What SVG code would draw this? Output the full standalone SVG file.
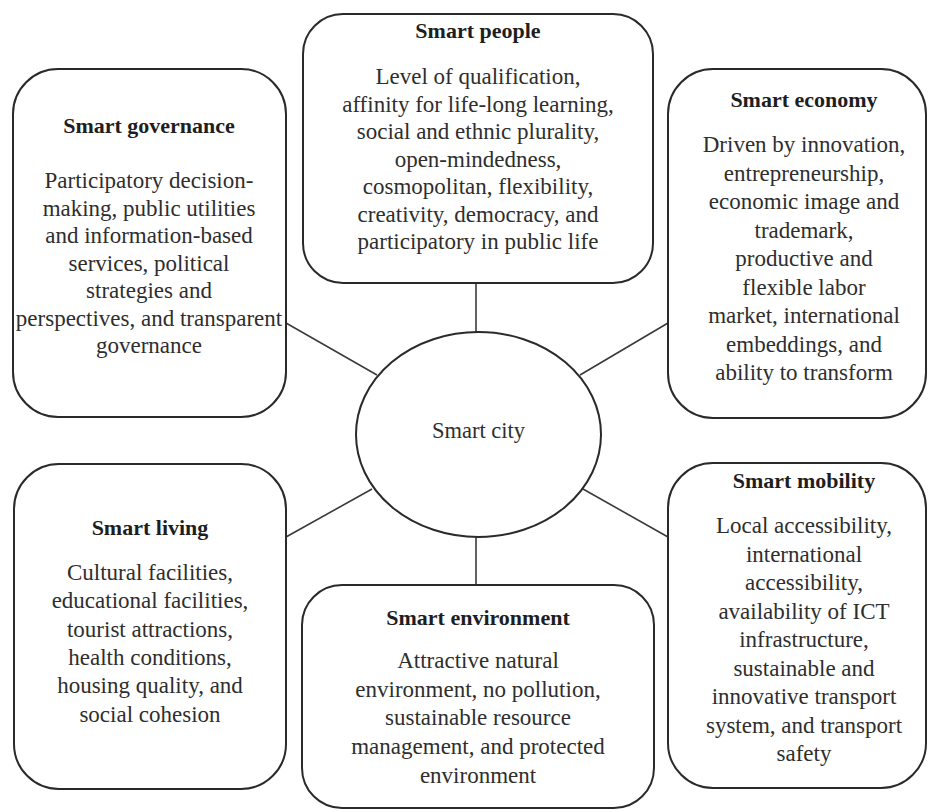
<svg xmlns="http://www.w3.org/2000/svg" width="930" height="812" viewBox="0 0 930 812">
<style>
.box{fill:#fff;stroke:#2a2a2a;stroke-width:2}
.ell{fill:#fff;stroke:#2a2a2a;stroke-width:2}
.con{stroke:#3a3a3a;stroke-width:1.6;fill:none}
.t{font-family:"Liberation Serif","Times New Roman",serif;font-size:22px;font-weight:bold;fill:#1e1e1e;text-anchor:middle}
.b{font-family:"Liberation Serif","Times New Roman",serif;font-size:23px;fill:#2e2e2e;text-anchor:middle}
.c{font-family:"Liberation Serif","Times New Roman",serif;font-size:22.5px;fill:#2e2e2e;text-anchor:middle}
</style>
<rect width="930" height="812" fill="#fff"/>
<g id="connectors">
<line class="con" x1="476" y1="283" x2="476" y2="332"/>
<line class="con" x1="476" y1="537" x2="476" y2="585"/>
<line class="con" x1="286" y1="323" x2="377" y2="375"/>
<line class="con" x1="668" y1="323" x2="580" y2="375"/>
<line class="con" x1="286" y1="537" x2="372" y2="489"/>
<line class="con" x1="668" y1="537" x2="583" y2="489"/>
</g>
<g id="smart-city">
<ellipse class="ell" cx="478.5" cy="434.5" rx="122.5" ry="102.5"/>
<text class="c" x="478.5" y="438">Smart city</text>
</g>
<g id="smart-governance">
<rect class="box" x="13" y="69" width="273" height="348" rx="45" ry="45"/>
<text class="t" x="149" y="133">Smart governance</text>
<text class="b" x="149" y="188">Participatory decision-</text>
<text class="b" x="149" y="215.5">making, public utilities</text>
<text class="b" x="149" y="243">and information-based</text>
<text class="b" x="149" y="270.5">services, political</text>
<text class="b" x="149" y="298">strategies and</text>
<text class="b" x="149" y="325.5">perspectives, and transparent</text>
<text class="b" x="149" y="353">governance</text>
</g>
<g id="smart-people">
<rect class="box" x="303" y="14" width="350" height="269" rx="40" ry="40"/>
<text class="t" x="478" y="38">Smart people</text>
<text class="b" x="478" y="84">Level of qualification,</text>
<text class="b" x="478" y="111.5">affinity for life-long learning,</text>
<text class="b" x="478" y="139">social and ethnic plurality,</text>
<text class="b" x="478" y="166.5">open-mindedness,</text>
<text class="b" x="478" y="194">cosmopolitan, flexibility,</text>
<text class="b" x="478" y="221.5">creativity, democracy, and</text>
<text class="b" x="478" y="249">participatory in public life</text>
</g>
<g id="smart-economy">
<rect class="box" x="668" y="69" width="258" height="349" rx="45" ry="45"/>
<text class="t" x="804" y="107">Smart economy</text>
<text class="b" x="804" y="152">Driven by innovation,</text>
<text class="b" x="804" y="180.5">entrepreneurship,</text>
<text class="b" x="804" y="209">economic image and</text>
<text class="b" x="804" y="237.5">trademark,</text>
<text class="b" x="804" y="266">productive and</text>
<text class="b" x="804" y="294.5">flexible labor</text>
<text class="b" x="804" y="323">market, international</text>
<text class="b" x="804" y="351.5">embeddings, and</text>
<text class="b" x="804" y="380">ability to transform</text>
</g>
<g id="smart-living">
<rect class="box" x="14" y="464" width="272" height="325" rx="45" ry="45"/>
<text class="t" x="150" y="535">Smart living</text>
<text class="b" x="150" y="580">Cultural facilities,</text>
<text class="b" x="150" y="608.3">educational facilities,</text>
<text class="b" x="150" y="636.6">tourist attractions,</text>
<text class="b" x="150" y="664.9">health conditions,</text>
<text class="b" x="150" y="693.2">housing quality, and</text>
<text class="b" x="150" y="721.5">social cohesion</text>
</g>
<g id="smart-environment">
<rect class="box" x="302" y="585" width="352" height="223" rx="40" ry="40"/>
<text class="t" x="478" y="625">Smart environment</text>
<text class="b" x="478" y="668">Attractive natural</text>
<text class="b" x="478" y="696.7">environment, no pollution,</text>
<text class="b" x="478" y="725.4">sustainable resource</text>
<text class="b" x="478" y="754.1">management, and protected</text>
<text class="b" x="478" y="782.8">environment</text>
</g>
<g id="smart-mobility">
<rect class="box" x="668" y="463" width="258" height="325" rx="45" ry="45"/>
<text class="t" x="804" y="488">Smart mobility</text>
<text class="b" x="804" y="533">Local accessibility,</text>
<text class="b" x="804" y="561.5">international</text>
<text class="b" x="804" y="590">accessibility,</text>
<text class="b" x="804" y="618.5">availability of ICT</text>
<text class="b" x="804" y="647">infrastructure,</text>
<text class="b" x="804" y="675.5">sustainable and</text>
<text class="b" x="804" y="704">innovative transport</text>
<text class="b" x="804" y="732.5">system, and transport</text>
<text class="b" x="804" y="761">safety</text>
</g>
</svg>
